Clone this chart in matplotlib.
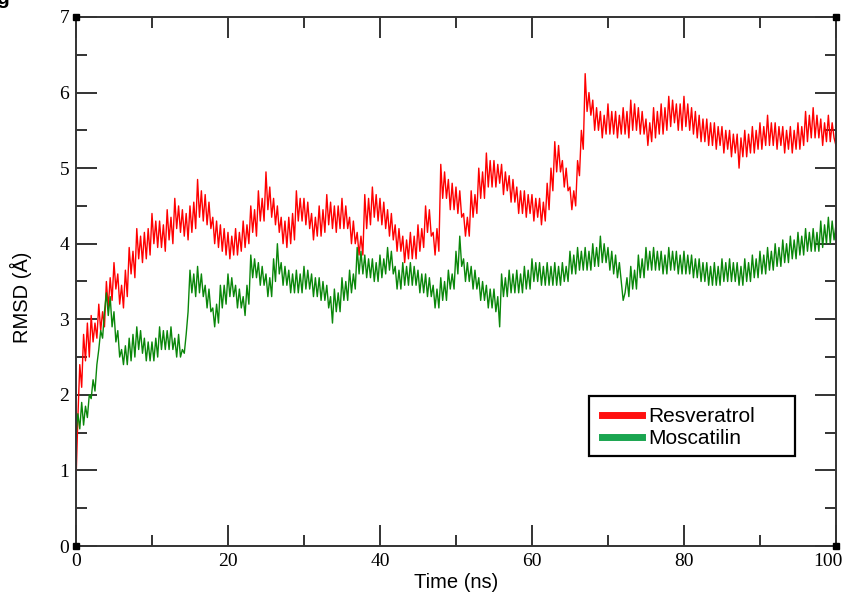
import numpy as np
import matplotlib
matplotlib.use('Agg')
import matplotlib.pyplot as plt
import matplotlib.transforms as mtransforms
from matplotlib.lines import Line2D
from matplotlib.patches import Rectangle

# time axis in ns, one reading every 0.25 ns
time_ns = np.arange(0, 100.01, 0.25)

resveratrol = [
    0.85, 1.7, 2.4, 2.1, 2.8, 2.45, 2.95, 2.5, 3.05, 2.7, 2.95, 2.75, 3.2, 2.85, 3.1, 2.9, 3.5, 3.15, 3.55, 3.25,
    3.75, 3.4, 3.6, 3.2, 3.45, 3.15, 3.65, 3.3, 3.95, 3.6, 3.9, 3.55, 4.2, 3.8, 4.1, 3.75, 4.15, 3.8, 4.2, 3.85,
    4.4, 4.0, 4.3, 3.95, 4.3, 3.95, 4.25, 3.9, 4.45, 4.05, 4.35, 4.0, 4.6, 4.2, 4.5, 4.15, 4.45, 4.1, 4.4, 4.05,
    4.5, 4.15, 4.55, 4.2, 4.85, 4.35, 4.7, 4.3, 4.65, 4.25, 4.55, 4.2, 4.35, 4.0, 4.3, 3.95, 4.25, 3.9, 4.2, 3.85,
    4.15, 3.8, 4.1, 3.85, 4.2, 3.85, 4.15, 3.9, 4.3, 3.95, 4.25, 4.0, 4.5, 4.15, 4.45, 4.1, 4.7, 4.3, 4.6, 4.3,
    4.95, 4.45, 4.75, 4.35, 4.6, 4.25, 4.5, 4.15, 4.35, 4.0, 4.3, 3.95, 4.35, 4.0, 4.4, 4.05, 4.7, 4.3, 4.6, 4.3,
    4.6, 4.25, 4.55, 4.2, 4.4, 4.05, 4.35, 4.1, 4.5, 4.1, 4.45, 4.15, 4.65, 4.25, 4.55, 4.2, 4.5, 4.15, 4.5, 4.2,
    4.6, 4.2, 4.5, 4.2, 4.35, 4.0, 4.3, 4.0, 4.15, 3.85, 4.1, 3.85, 4.65, 4.2, 4.6, 4.25, 4.75, 4.35, 4.65, 4.3,
    4.6, 4.25, 4.55, 4.2, 4.45, 4.1, 4.4, 4.05, 4.25, 3.9, 4.2, 3.9, 4.1, 3.75, 4.05, 3.8, 4.15, 3.8, 4.1, 3.8,
    4.25, 3.9, 4.2, 3.95, 4.5, 4.15, 4.45, 4.1, 4.15, 3.85, 4.2, 3.9, 5.05, 4.6, 4.95, 4.6, 4.85, 4.45, 4.8, 4.45,
    4.75, 4.4, 4.7, 4.35, 4.4, 4.1, 4.35, 4.1, 4.7, 4.35, 4.65, 4.4, 5.0, 4.6, 4.95, 4.6, 5.2, 4.75, 5.1, 4.75,
    5.1, 4.75, 5.05, 4.8, 5.05, 4.65, 4.95, 4.7, 4.9, 4.55, 4.85, 4.55, 4.75, 4.4, 4.7, 4.4, 4.7, 4.35, 4.65, 4.4,
    4.65, 4.3, 4.6, 4.35, 4.6, 4.25, 4.55, 4.3, 4.8, 4.45, 5.0, 4.7, 5.35, 4.95, 5.3, 4.95, 5.1, 4.75, 5.0, 4.7,
    4.75, 4.45, 4.7, 4.5, 5.1, 4.9, 5.5, 5.25, 6.25, 5.75, 6.0, 5.7, 5.9, 5.5, 5.8, 5.5, 5.75, 5.4, 5.7, 5.45,
    5.85, 5.45, 5.75, 5.45, 5.75, 5.4, 5.7, 5.45, 5.8, 5.45, 5.75, 5.4, 5.9, 5.5, 5.85, 5.5, 5.8, 5.45, 5.75, 5.45,
    5.65, 5.3, 5.6, 5.35, 5.8, 5.4, 5.75, 5.45, 5.85, 5.45, 5.8, 5.5, 5.95, 5.55, 5.9, 5.6, 5.85, 5.5, 5.85, 5.5,
    5.95, 5.55, 5.85, 5.5, 5.8, 5.45, 5.75, 5.4, 5.7, 5.35, 5.65, 5.35, 5.65, 5.3, 5.6, 5.3, 5.6, 5.25, 5.55, 5.3,
    5.55, 5.2, 5.5, 5.25, 5.5, 5.15, 5.45, 5.2, 5.45, 5.0, 5.4, 5.15, 5.5, 5.15, 5.45, 5.2, 5.55, 5.2, 5.5, 5.25,
    5.6, 5.25, 5.55, 5.3, 5.7, 5.3, 5.6, 5.3, 5.6, 5.25, 5.55, 5.3, 5.55, 5.2, 5.5, 5.25, 5.55, 5.2, 5.5, 5.25,
    5.6, 5.25, 5.55, 5.3, 5.75, 5.35, 5.7, 5.4, 5.8, 5.4, 5.7, 5.4, 5.65, 5.3, 5.6, 5.35, 5.7, 5.35, 5.6, 5.4,
    5.3,
]

moscatilin = [
    1.45, 1.75, 1.55, 1.9, 1.6, 1.85, 1.7, 2.0, 1.95, 2.2, 2.05, 2.4, 2.6, 2.85, 2.75, 3.1, 3.35, 3.05, 3.3, 2.9,
    3.1, 2.7, 2.85, 2.5, 2.6, 2.4, 2.65, 2.4, 2.75, 2.45, 2.8, 2.5, 2.9, 2.6, 2.85, 2.55, 2.75, 2.45, 2.7, 2.45,
    2.7, 2.45, 2.75, 2.5, 2.9, 2.6, 2.85, 2.6, 2.85, 2.6, 2.9, 2.6, 2.75, 2.5, 2.8, 2.5, 2.6, 2.55, 2.8, 3.1,
    3.65, 3.35, 3.6, 3.3, 3.7, 3.35, 3.6, 3.3, 3.45, 3.15, 3.4, 3.1, 3.15, 2.9, 3.2, 2.95, 3.45, 3.15, 3.45, 3.2,
    3.6, 3.3, 3.55, 3.3, 3.45, 3.15, 3.4, 3.15, 3.3, 3.05, 3.45, 3.2, 3.85, 3.55, 3.8, 3.55, 3.75, 3.45, 3.7, 3.45,
    3.6, 3.3, 3.55, 3.3, 3.8, 3.5, 4.0, 3.6, 3.75, 3.45, 3.7, 3.45, 3.65, 3.35, 3.6, 3.35, 3.65, 3.35, 3.6, 3.35,
    3.7, 3.4, 3.65, 3.4, 3.6, 3.3, 3.55, 3.3, 3.55, 3.25, 3.5, 3.25, 3.45, 3.15, 3.3, 2.95, 3.4, 3.1, 3.35, 3.1,
    3.55, 3.25, 3.5, 3.25, 3.65, 3.35, 3.6, 3.4, 3.95, 3.6, 3.9, 3.6, 3.85, 3.55, 3.8, 3.55, 3.8, 3.5, 3.75, 3.5,
    3.85, 3.55, 3.8, 3.6, 3.95, 3.65, 3.9, 3.6, 3.7, 3.4, 3.65, 3.4, 3.75, 3.45, 3.7, 3.45, 3.75, 3.45, 3.7, 3.45,
    3.65, 3.35, 3.6, 3.35, 3.6, 3.3, 3.55, 3.3, 3.45, 3.15, 3.4, 3.15, 3.55, 3.25, 3.5, 3.25, 3.65, 3.4, 3.6, 3.4,
    3.9, 3.6, 4.1, 3.7, 3.8, 3.5, 3.75, 3.5, 3.7, 3.4, 3.65, 3.4, 3.55, 3.25, 3.5, 3.25, 3.45, 3.15, 3.4, 3.15,
    3.4, 3.1, 3.3, 2.9, 3.6, 3.3, 3.55, 3.3, 3.65, 3.35, 3.6, 3.35, 3.65, 3.35, 3.6, 3.35, 3.7, 3.4, 3.65, 3.4,
    3.8, 3.5, 3.75, 3.5, 3.75, 3.45, 3.7, 3.45, 3.75, 3.45, 3.7, 3.45, 3.75, 3.45, 3.7, 3.45, 3.75, 3.5, 3.7, 3.5,
    3.9, 3.6, 3.85, 3.6, 3.95, 3.65, 3.9, 3.65, 3.95, 3.65, 3.9, 3.65, 4.0, 3.7, 3.95, 3.7, 4.1, 3.75, 4.0, 3.75,
    3.95, 3.65, 3.9, 3.6, 3.85, 3.55, 3.75, 3.5, 3.25, 3.35, 3.55, 3.3, 3.7, 3.4, 3.65, 3.4, 3.85, 3.55, 3.8, 3.55,
    3.95, 3.65, 3.9, 3.65, 3.95, 3.65, 3.9, 3.65, 3.9, 3.6, 3.85, 3.6, 3.95, 3.65, 3.9, 3.65, 3.9, 3.6, 3.85, 3.6,
    3.9, 3.6, 3.85, 3.6, 3.85, 3.55, 3.8, 3.55, 3.8, 3.5, 3.75, 3.5, 3.75, 3.45, 3.7, 3.45, 3.75, 3.45, 3.7, 3.45,
    3.8, 3.5, 3.75, 3.5, 3.8, 3.5, 3.75, 3.5, 3.75, 3.45, 3.7, 3.45, 3.8, 3.5, 3.75, 3.5, 3.85, 3.55, 3.8, 3.55,
    3.9, 3.6, 3.85, 3.6, 3.95, 3.65, 3.9, 3.65, 4.0, 3.7, 3.95, 3.7, 4.05, 3.75, 4.0, 3.75, 4.1, 3.8, 4.05, 3.8,
    4.15, 3.85, 4.1, 3.85, 4.2, 3.9, 4.15, 3.9, 4.2, 3.9, 4.15, 3.9, 4.3, 3.95, 4.25, 4.0, 4.35, 4.0, 4.3, 4.05,
    4.25,
]

red = '#ff0000'
green = '#0a870a'

fig = plt.figure(figsize=(8.48, 6.02), dpi=100)
ax = fig.add_axes([0.0896, 0.093, 0.8962, 0.8788])

ax.plot(time_ns, resveratrol, color=red, lw=1.0)
ax.plot(time_ns, moscatilin, color=green, lw=1.0)

ax.set_xlim(0, 100)
ax.set_ylim(0, 7)
ax.set_xticks(np.arange(0, 101, 20))
ax.set_xticks(np.arange(0, 101, 10), minor=True)
ax.set_yticks(np.arange(0, 8, 1))
ax.set_yticks(np.arange(0, 7.1, 0.5), minor=True)

ax.tick_params(which='both', direction='in', top=True, right=True, width=1.4, color='#333333')
ax.tick_params(which='major', length=15)
ax.tick_params(which='minor', length=8)
ax.tick_params(axis='both', labelsize=14, pad=5)
for lab in ax.get_xticklabels() + ax.get_yticklabels():
    lab.set_family('Liberation Serif')
for s in ax.spines.values():
    s.set_linewidth(1.4)
    s.set_color('#333333')

# last x label sits a bit left so it stays inside the figure
last = ax.get_xticklabels()[-1]
last.set_transform(last.get_transform() + mtransforms.ScaledTranslation(-6 / 72, 0, fig.dpi_scale_trans))

ax.set_xlabel('Time (ns)', family='Liberation Sans', fontsize=14.5, labelpad=2)
ax.set_ylabel('RMSD (Å)', family='Liberation Sans', fontsize=14.5)
ax.yaxis.set_label_coords(-0.058, 0.47)

# corner handles like in xmgrace
xs = [0, 100, 0, 100]
ys = [0, 0, 7, 7]
ax.plot(xs, ys, ls='none', marker='s', ms=5, color='black', clip_on=False, zorder=5)

# legend box drawn separately so it can be wider than its text
box = Rectangle((0.675, 0.170), 0.271, 0.113, transform=ax.transAxes,
                facecolor='white', edgecolor='black', lw=1.6, zorder=4)
ax.add_patch(box)
handles = [Line2D([], [], color='#ff1010', lw=5), Line2D([], [], color='#1aa550', lw=5)]
leg = ax.legend(handles, ['Resveratrol', 'Moscatilin'], loc='center left',
                bbox_to_anchor=(0.684, 0.224), borderaxespad=0, frameon=False,
                prop={'family': 'Liberation Sans', 'size': 15},
                handlelength=1.9, handletextpad=0.3, borderpad=0.3, labelspacing=0.15)
leg.set_zorder(6)

fig.text(-0.004, 1.018, 'g', fontsize=15, fontweight='bold', va='top', family='Liberation Sans')

fig.savefig('out.png', dpi=100)
